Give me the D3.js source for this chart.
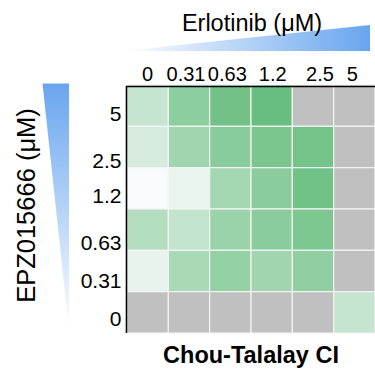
<!DOCTYPE html>
<html>
<head>
<meta charset="utf-8">
<script src="https://cdn.jsdelivr.net/npm/d3@7/dist/d3.min.js"></script>
<style>
  html, body { margin: 0; padding: 0; background: #fff; }
  svg { display: block; font-family: "Liberation Sans", Arial, sans-serif; }
</style>
</head>
<body>
<svg id="chart" width="375" height="371"></svg>
<script>
// ---- data ----
const erlotinib = ["0", "0.31", "0.63", "1.2", "2.5", "5"];          // columns (µM)
const epz = ["5", "2.5", "1.2", "0.63", "0.31", "0"];                 // rows, top to bottom (µM)
// Chou-Talalay CI per row (EPZ015666) and column (Erlotinib); null = not computed (gray)
const ciRow5    = [0.66, 0.30, 0.13, 0.06, null, null];
const ciRow2_5  = [0.77, 0.42, 0.27, 0.18, 0.14, null];
const ciRow1_2  = [0.99, 0.89, 0.44, 0.28, 0.12, null];
const ciRow0_63 = [0.54, 0.64, 0.38, 0.28, 0.20, null];
const ciRow0_31 = [0.88, 0.48, 0.34, 0.42, 0.32, null];
const ciRow0    = [null, null, null, null, null, 0.66];
const ciRows = [ciRow5, ciRow2_5, ciRow1_2, ciRow0_63, ciRow0_31, ciRow0];
const xTitle = "Erlotinib (\u03bcM)";
const yTitle = "EPZ015666 (\u03bcM)";
const legendTitle = "Chou-Talalay CI";

// ---- layout ----
const svg = d3.select("#chart");
const gx0 = 127, gx1 = 375, gy0 = 85, gy1 = 333;
const x = d3.scaleBand().domain(erlotinib).range([gx0, gx1]).padding(0);
const y = d3.scaleBand().domain(epz).range([gy0, gy1]).padding(0);
const color = d3.scaleLinear().domain([1, 0]).range(["#fbfbfe", "#5eba76"]).clamp(true);
const naColor = "#c0c0c0";

const defs = svg.append("defs");
const gH = defs.append("linearGradient").attr("id", "gH").attr("x1", 0).attr("x2", 1).attr("y1", 0).attr("y2", 0);
gH.append("stop").attr("offset", 0).attr("stop-color", "#ffffff");
gH.append("stop").attr("offset", 1).attr("stop-color", "#68a5ef");
const gV = defs.append("linearGradient").attr("id", "gV").attr("x1", 0).attr("x2", 0).attr("y1", 0).attr("y2", 1);
gV.append("stop").attr("offset", 0).attr("stop-color", "#68a5ef");
gV.append("stop").attr("offset", 1).attr("stop-color", "#ffffff");

// wedges
svg.append("path").attr("d", "M123,51 L370,25 L370,51 Z").attr("fill", "url(#gH)");
svg.append("path").attr("d", "M42.5,83.5 L69,83.5 L69,330 Z").attr("fill", "url(#gV)");

// cells
const cells = [];
ciRows.forEach((row, i) => row.forEach((v, j) => cells.push({ r: epz[i], c: erlotinib[j], v })));
svg.append("g").selectAll("rect").data(cells).join("rect")
  .attr("x", d => x(d.c))
  .attr("y", d => y(d.r))
  .attr("width", x.bandwidth())
  .attr("height", y.bandwidth())
  .attr("fill", d => d.v == null ? naColor : color(d.v))
  .attr("stroke", "#f4f4f4")
  .attr("stroke-width", 1.2);

// axes
const topNudge = [0, -3, -3, 1, 7, -2];
const leftNudge = [8, 13, 7, 13, 9, 6];
const ax = svg.append("g").attr("transform", `translate(0,${gy0 + 1.5})`)
  .call(d3.axisTop(x).tickSize(0).tickPadding(6));
ax.select(".domain").attr("d", `M${gx0 - 1},0H${gx1}`).attr("stroke", "#000").attr("stroke-width", 1.6);
ax.selectAll(".tick text").attr("font-size", 20).attr("fill", "#000")
  .attr("font-family", "Liberation Sans, Arial, sans-serif")
  .attr("dx", (d, i) => topNudge[i]);

const ay = svg.append("g").attr("transform", `translate(${gx0 - 0.5},0)`)
  .call(d3.axisLeft(y).tickSize(0).tickPadding(5));
ay.select(".domain").attr("d", `M0,${gy0 + 1}V${gy1}`).attr("stroke", "#000").attr("stroke-width", 1.6);
ay.selectAll(".tick text").attr("font-size", 21).attr("fill", "#000")
  .attr("font-family", "Liberation Sans, Arial, sans-serif")
  .attr("dy", (d, i) => `${0.36 * 21 + leftNudge[i]}px`);

// titles
svg.append("text").attr("x", 252).attr("y", 31).attr("text-anchor", "middle")
  .attr("font-size", 23.5).attr("fill", "#000").text(xTitle);
svg.append("text").attr("transform", "translate(35,205.5) rotate(-90)").attr("text-anchor", "middle")
  .attr("font-size", 25.5).attr("fill", "#000").text(yTitle);
svg.append("text").attr("x", 251).attr("y", 363).attr("text-anchor", "middle")
  .attr("font-size", 23.5).attr("font-weight", "bold").attr("fill", "#000").text(legendTitle);
</script>
</body>
</html>
